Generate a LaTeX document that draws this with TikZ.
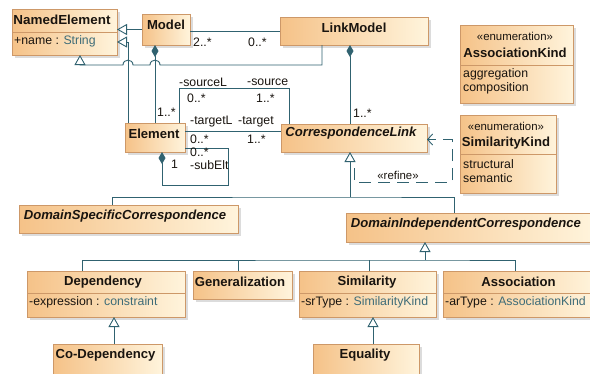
\documentclass[tikz,border=0pt]{standalone}
\usepackage{fontspec}
\usepackage{graphicx}
\setmainfont{Liberation Sans}
\usetikzlibrary{arrows.meta,shadows,calc}
\definecolor{boxL}{RGB}{245,194,136}
\definecolor{boxR}{RGB}{255,244,220}
\definecolor{boxB}{RGB}{205,152,104}
\definecolor{lineC}{RGB}{48,98,112}
\definecolor{typeC}{RGB}{62,108,120}
\definecolor{txtC}{RGB}{25,20,15}
\newcommand\clsfont{\fontsize{13.1}{15}\selectfont\bfseries}
\newcommand\absfont{\fontsize{13.1}{15}\selectfont\bfseries\itshape}
\newcommand\attrfont{\fontsize{12.3}{14}\selectfont}
\newcommand\stfont{\fontsize{11.4}{13}\selectfont}
\tikzset{
  cls/.style={draw=boxB, line width=0.8pt, left color=boxL, right color=boxR,
    inner sep=0pt, outer sep=0pt, anchor=north west,
    drop shadow={shadow xshift=2.5pt, shadow yshift=-2.5pt, opacity=0.3, fill=black!45}},
  divl/.style={draw=boxB, line width=0.8pt},
  conn/.style={draw=lineC, line width=0.9pt},
  genline/.style={conn, -{Triangle[length=10pt, width=11pt, fill=white]}},
  compline/.style={conn, {Diamond[length=12pt, width=7pt, fill=lineC]}-},
  refineline/.style={conn, dash pattern=on 12pt off 7pt, -{Straight Barb[length=5pt, width=11pt]}},
  lbl/.style={inner sep=0pt, text=txtC},
  nmtxt/.style={lbl, font=\clsfont},
  abtxt/.style={lbl, font=\absfont},
  attrtxt/.style={lbl, font=\attrfont, anchor=west},
  sttxt/.style={lbl, font=\stfont},
  multxt/.style={lbl, font=\attrfont, anchor=west}
}
\begin{document}
\begin{tikzpicture}[x=1pt,y=-1pt]
\fill[white] (0,0) rectangle (590,373);
\useasboundingbox (0,0) rectangle (590,373);

% class boxes
\node[cls, minimum width=105pt, minimum height=46pt] (ne) at (12,9) {};
\node[cls, minimum width=48pt, minimum height=31pt] (model) at (142,14) {};
\node[cls, minimum width=148pt, minimum height=28pt] (lm) at (280,17) {};
\node[cls, minimum width=113pt, minimum height=78pt] (ak) at (460,25) {};
\node[cls, minimum width=96pt, minimum height=78pt] (sk) at (460,115) {};
\node[cls, minimum width=60pt, minimum height=29pt] (el) at (125,123) {};
\node[cls, minimum width=146pt, minimum height=28pt] (cl) at (281,124) {};
\node[cls, minimum width=219pt, minimum height=28pt] (dsc) at (19,205) {};
\node[cls, minimum width=249pt, minimum height=29pt] (dic) at (346,213) {};
\node[cls, minimum width=158pt, minimum height=46pt] (dep) at (27,271) {};
\node[cls, minimum width=99pt, minimum height=28pt] (gen) at (193,271) {};
\node[cls, minimum width=137pt, minimum height=46pt] (sim) at (299,271) {};
\node[cls, minimum width=152pt, minimum height=46pt] (asc) at (443,271) {};
\node[cls, minimum width=109pt, minimum height=34pt] (codep) at (53,344) {};
\node[cls, minimum width=106pt, minimum height=34pt] (eq) at (313,344) {};

% compartment dividers
\draw[divl] (12,32) -- (117,32);
\draw[divl] (460,65) -- (573,65);
\draw[divl] (460,154) -- (556,154);
\draw[divl] (27,293) -- (185,293);
\draw[divl] (299,293) -- (436,293);
\draw[divl] (443,293) -- (595,293);

% texts in boxes
\node[nmtxt] (tne) at (62,19.5) {\resizebox{97pt}{\height}{NamedElement}};
\node[attrtxt] (ane) at (14,41) {+name : \textcolor{typeC}{String}};
\node[nmtxt] (tmodel) at (166,24.5) {Model};
\node[nmtxt] (tlm) at (354,27.5) {LinkModel};
\node[sttxt] (sak) at (515,36) {«enumeration»};
\node[nmtxt] (tak) at (515,53) {AssociationKind};
\node[attrtxt] (lak1) at (463,74) {aggregation};
\node[attrtxt] (lak2) at (463,88) {composition};
\node[sttxt] (ssk) at (506,126) {«enumeration»};
\node[nmtxt] (tsk) at (506,143) {SimilarityKind};
\node[attrtxt] (lsk1) at (463,164) {structural};
\node[attrtxt] (lsk2) at (463,178) {semantic};
\node[nmtxt] (tel) at (154,134) {Element};
\node[abtxt] (tcl) at (351,133) {CorrespondenceLink};
\node[abtxt] (tdsc) at (125,216) {DomainSpecificCorrespondence};
\node[abtxt] (tdic) at (466,224) {DomainIndependentCorrespondence};
\node[nmtxt] (tdep) at (103,282) {Dependency};
\node[attrtxt] (adep) at (29,302) {-expression : \textcolor{typeC}{constraint}};
\node[nmtxt] (tgen) at (240,282) {Generalization};
\node[nmtxt] (tsim) at (367,282) {Similarity};
\node[attrtxt] (asim) at (301,302) {-srType : \textcolor{typeC}{SimilarityKind}};
\node[nmtxt] (tasc) at (518.5,282) {Association};
\node[attrtxt] (aasc) at (445,302) {-arType : \textcolor{typeC}{AssociationKind}};
\node[nmtxt] (tcodep) at (105.5,355) {Co-Dependency};
\node[nmtxt] (teq) at (365,355) {Equality};

% generalizations to NamedElement
\draw[genline] (model.west) -- (model.west -| ne.east);
\draw[genline] ([xshift=3pt]el.north west) |- ([yshift=-10pt]ne.east);
\draw[genline] ([xshift=-32pt]lm.south) -- ++(0,20) -- (160,65)
  .. controls (160,58.5) and (150,58.5) .. (150,65) -- (133,65)
  .. controls (133,58.5) and (123,58.5) .. (123,65) -- (80,65)
  -- ([xshift=15.5pt]ne.south);

% Model composition of Element
\draw[compline] ([xshift=-11pt]model.south) -- ([xshift=-11pt]model.south |- el.north);
\node[multxt] (m3) at (157,112) {1..*};

% Model -- LinkModel
\draw[conn] ([yshift=-2pt]model.east) -- ([yshift=-2pt]model.east -| lm.west);
\node[multxt] (m1) at (193,42) {2..*};
\node[multxt] (m2) at (248,42) {0..*};

% LinkModel composition of CorrespondenceLink
\draw[compline] ([xshift=-4pt]lm.south) -- ([xshift=-4pt]lm.south |- cl.north);
\node[multxt] (m4) at (353,113) {1..*};

% sourceL / source
\draw[conn] ([xshift=54pt]el.north west) -- ++(0,-35) -| ([xshift=8pt]cl.north west);
\node[multxt] (r1) at (179,82) {-sourceL};
\node[multxt] (r2) at (247,82) {-source};
\node[multxt] (m5) at (187,98) {0..*};
\node[multxt] (m6) at (256,98) {1..*};

% targetL / target
\draw[conn] ([yshift=6.5pt]el.east) -- ([yshift=6.5pt]el.east -| cl.west);
\node[multxt] (r3) at (190,122) {-targetL};
\node[multxt] (r4) at (238,122) {-target};
\node[multxt] (m7) at (190,139) {0..*};
\node[multxt] (m8) at (247,139) {1..*};

% subElt self composition
\draw[compline] ([xshift=7pt]el.south) -- ++(0,33) -- ++(66,0) |- ([yshift=-10.5pt]el.east);
\node[multxt] (m9) at (190,152.5) {0..*};
\node[multxt] (r5) at (190,165) {-subElt};
\node[multxt] (m10) at (171,164) {1};

% generalizations to CorrespondenceLink
\coordinate (j1) at (350,197);
\draw[conn] ([xshift=-16.5pt]dsc.north) |- (j1) -| ([xshift=-16.5pt]dic.north);
\draw[genline] (j1) -- (j1 |- cl.south);

% generalizations to DomainIndependentCorrespondence
\coordinate (j2) at (425,260);
\draw[genline] (j2) -- (j2 |- dic.south);
\draw[conn] ([xshift=-24pt]dep.north) |- (j2) -| ([xshift=-4pt]asc.north);
\draw[conn] ([xshift=-4.5pt]gen.north) -- ++(0,-11);
\draw[conn] ([xshift=1.5pt]sim.north) -- ++(0,-11);

% lower generalizations
\draw[genline] ([xshift=6.5pt]codep.north) -- ([xshift=6.5pt]codep.north |- dep.south);
\draw[genline] ([xshift=7pt]eq.north) -- ([xshift=7pt]eq.north |- sim.south);

% refine dependency
\coordinate (rs) at (354,168);
\draw[refineline] (rs) |- (452,182) |- ([yshift=-1.5pt]cl.east);
\node[sttxt] (lref) at (398,175) {«refine»};
\end{tikzpicture}
\end{document}
